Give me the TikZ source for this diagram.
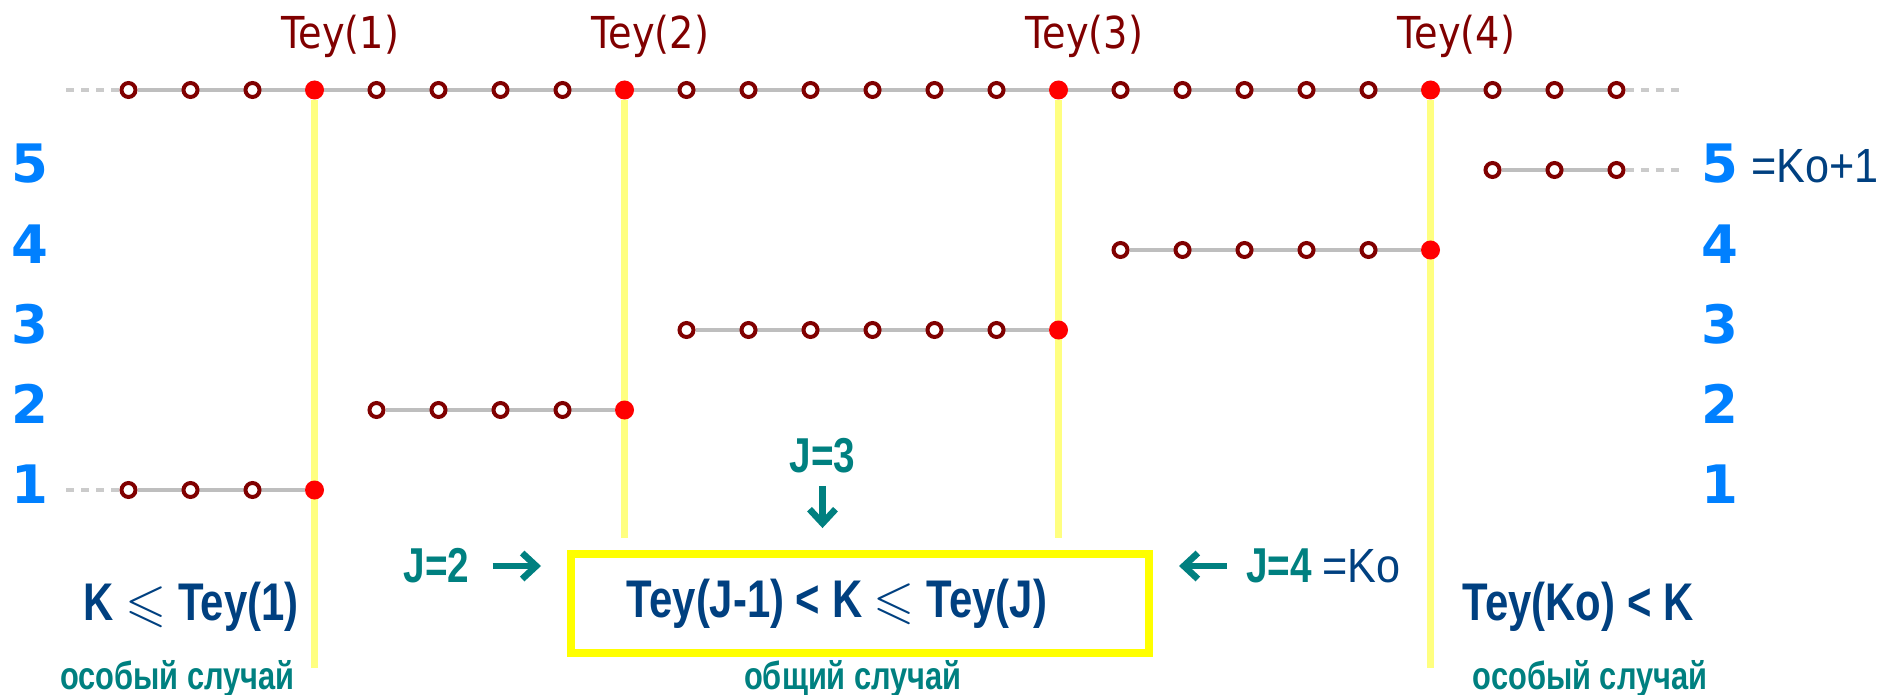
\documentclass[tikz,border=0pt]{standalone}
\usepackage{fontspec}
\usepackage{amssymb}
\usetikzlibrary{arrows.meta, positioning, backgrounds}

\newfontfamily\teyfont{DejaVu Sans}[FakeStretch=0.87]
\newfontfamily\numfont{DejaVu Sans}
\newfontfamily\narrowfont{Liberation Sans}[FakeStretch=0.79]
\newfontfamily\kofont{Liberation Sans}[FakeStretch=0.9]

\definecolor{teyred}{RGB}{128,0,0}
\definecolor{lvlblue}{RGB}{0,128,255}
\definecolor{navy}{RGB}{0,64,128}
\definecolor{caseteal}{RGB}{0,128,128}
\definecolor{trackgray}{RGB}{190,190,190}
\definecolor{railyellow}{RGB}{255,255,128}
\definecolor{boxyellow}{RGB}{255,255,0}

\begin{document}
\begin{tikzpicture}[x=0.5pt, y=-0.5pt,
  ring/.style={circle, draw=teyred, line width=2pt, fill=white, minimum size=7pt, inner sep=0},
  hit/.style={circle, fill=red, minimum size=9.5pt, inner sep=0},
  track/.style={draw=trackgray, line width=1.6pt},
  lead/.style={draw=trackgray!80, line width=1.6pt, dash pattern=on 4pt off 3.5pt},
  rail/.style={draw=railyellow, line width=3.5pt},
  tey/.style={text=teyred, font=\teyfont\fontsize{22}{26}\selectfont, inner sep=0},
  lvl/.style={text=lvlblue, font=\numfont\bfseries\fontsize{26.5}{30}\selectfont, inner sep=0},
  cond/.style={text=navy, font=\narrowfont\bfseries\fontsize{26.5}{30}\selectfont, inner sep=0},
  note/.style={text=caseteal, font=\narrowfont\bfseries\fontsize{19.5}{22}\selectfont, inner sep=0},
  jlab/.style={text=caseteal, font=\narrowfont\bfseries\fontsize{24.5}{28}\selectfont, inner sep=0},
  ko/.style={text=navy, font=\kofont\fontsize{24}{28}\selectfont, inner sep=0},
  casebox/.style={draw=boxyellow, line width=4pt, minimum width=289pt, minimum height=49.35pt},
  ptr/.style={-{Straight Barb[length=7pt, width=13pt]}, draw=caseteal, line width=3.3pt}
]
  \useasboundingbox (0,0) rectangle (1883,695);

  \foreach \i in {0,1,2,4,5,6,7,9,10,11,12,13,14,16,17,18,19,20,22,23,24}
    \node[ring] (top\i) at ({128.5+62*\i}, 90) {};
  \foreach \i/\n in {3/1, 8/2, 15/3, 21/4} {
    \node[hit] (top\i) at ({128.5+62*\i}, 90) {};
    \node[tey] (tey\n) at ({154.5+62*\i}, 36) {Tey(\n)};
  }

  \foreach \k/\a/\c/\b in {1/0/2/3, 2/4/7/8, 3/9/14/15, 4/16/20/21} {
    \foreach \i in {\a,...,\c}
      \node[ring] (row\k-\i) at ({128.5+62*\i}, {490-80*(\k-1)}) {};
    \node[hit] (row\k-\b) at ({128.5+62*\b}, {490-80*(\k-1)}) {};
  }
  \foreach \i in {22,23,24}
    \node[ring] (row5-\i) at ({128.5+62*\i}, 170) {};

  \coordinate (topstart) at (66,90);
  \coordinate (topend) at (1681,90);
  \coordinate (row1start) at (66,490);
  \coordinate (row5end) at (1681,170);
  \coordinate (foot1) at (314.5,668);
  \coordinate (foot2) at (624.5,538);
  \coordinate (foot3) at (1058.5,538);
  \coordinate (foot4) at (1430.5,668);

  \begin{pgfonlayer}{background}
    \draw[lead] (topstart) -- (top0);
    \draw[track] (top0) -- (top24);
    \draw[lead] (top24) -- (topend);
    \draw[lead] (row1start) -- (row1-0);
    \draw[track] (row1-0) -- (row1-3);
    \draw[track] (row2-4) -- (row2-8);
    \draw[track] (row3-9) -- (row3-15);
    \draw[track] (row4-16) -- (row4-21);
    \draw[track] (row5-22) -- (row5-24);
    \draw[lead] (row5-24) -- (row5end);
    \foreach \n/\i in {1/3, 2/8, 3/15, 4/21}
      \draw[rail] (top\i) -- (foot\n);
  \end{pgfonlayer}

  \foreach \k in {1,...,5} {
    \node[lvl] (left\k) at (30, {484-80*(\k-1)}) {\k};
    \node[lvl] (right\k) at (1720, {484-80*(\k-1)}) {\k};
  }
  \node[ko, anchor=base west] (koplus) at ([xshift=6pt]right5.base east) {=Ko+1};

  \node[cond, anchor=east] (low) at (299,607) {K \(\leqslant\) Tey(1)};
  \node[casebox, cond] (gen) at (860,603.4) {Tey(J-1) < K \(\leqslant\) Tey(J)\hspace*{23pt}};
  \node[cond] (high) at (1578,607) {Tey(Ko) < K};

  \node[note] (lowcase) at (177.5,679) {особый случай};
  \node[note] (gencase) at (853,679) {общий случай};
  \node[note] (highcase) at (1590,679) {особый случай};

  \node[jlab] (j2) at (436.5,566) {J=2};
  \node[jlab] (j3) at (822.5,456) {J=3};
  \node[jlab] (j4) at (1279,566) {J=4};
  \node[ko, anchor=base west] (ko) at ([xshift=5pt]j4.base east) {=Ko};

  \draw[ptr, shorten <=11.5pt, shorten >=13pt] (j2) -- (j2 -| gen.west);
  \draw[ptr, shorten <=6pt, shorten >=11pt] (j3) -- (j3 |- gen.north);
  \draw[ptr, shorten <=9.5pt, shorten >=13pt] (j4) -- (j4 -| gen.east);
\end{tikzpicture}
\end{document}
